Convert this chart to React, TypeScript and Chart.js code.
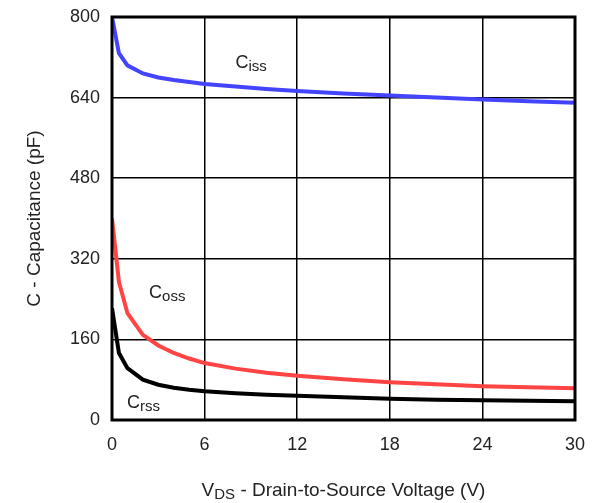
import React, { useEffect, useRef } from "react";
import { Chart, registerables } from "chart.js";

Chart.register(...registerables);

const voltages = [0, 0.45, 1, 2, 3, 4, 5, 6, 8, 10, 12, 15, 18, 21, 24, 27, 30];
const ciss = [800, 728, 704, 688, 680, 675, 671, 667, 662, 657, 653, 648, 644, 640, 636, 633, 630];
const coss = [400, 274, 212, 169, 148, 133, 122, 113, 102, 94, 88, 81, 75, 71, 67, 65, 63];
const crss = [222, 133, 103, 80, 70, 64, 60, 57, 53, 50, 48, 45, 42, 40, 39, 38, 37];
const xTicks = [0, 6, 12, 18, 24, 30];
const yTicks = [0, 160, 320, 480, 640, 800];
const curveLabels = [
  { main: "C", sub: "iss", x: 8.0, y: 708 },
  { main: "C", sub: "oss", x: 2.4, y: 252 },
  { main: "C", sub: "rss", x: 0.97, y: 34 },
];

const FONT = "'Liberation Sans', Arial, sans-serif";

const overlay = {
  id: "overlay",
  afterDraw(chart: any) {
    const { ctx, chartArea, scales } = chart;
    const xs = scales.x, ys = scales.y;
    ctx.save();
    ctx.strokeStyle = "#000";
    ctx.lineWidth = 3;
    ctx.strokeRect(chartArea.left, chartArea.top, chartArea.right - chartArea.left, chartArea.bottom - chartArea.top);
    ctx.fillStyle = "#222";
    ctx.textBaseline = "middle";
    ctx.textAlign = "left";
    for (const l of curveLabels) {
      const px = xs.getPixelForValue(l.x);
      const py = ys.getPixelForValue(l.y);
      ctx.font = `18px ${FONT}`;
      ctx.fillText(l.main, px, py);
      const w = ctx.measureText(l.main).width;
      ctx.font = `15px ${FONT}`;
      ctx.fillText(l.sub, px + w, py + 4);
    }
    const cx = (chartArea.left + chartArea.right) / 2;
    const ty = 491;
    ctx.font = `19px ${FONT}`;
    const p1 = "V";
    const p3 = " - Drain-to-Source Voltage (V)";
    const w1 = ctx.measureText(p1).width;
    const w3 = ctx.measureText(p3).width;
    ctx.font = `15px ${FONT}`;
    const w2 = ctx.measureText("DS").width;
    const sx = cx - (w1 + w2 + w3) / 2;
    ctx.font = `19px ${FONT}`;
    ctx.fillText(p1, sx, ty);
    ctx.font = `15px ${FONT}`;
    ctx.fillText("DS", sx + w1, ty + 4);
    ctx.font = `19px ${FONT}`;
    ctx.fillText(p3, sx + w1 + w2, ty);
    ctx.translate(35, (chartArea.top + chartArea.bottom) / 2);
    ctx.rotate(-Math.PI / 2);
    ctx.textAlign = "center";
    ctx.fillText("C - Capacitance (pF)", 0, 0);
    ctx.restore();
  },
};

const zeroPad = (s: any) => {
  s.paddingTop = 0;
  s.paddingBottom = 0;
  s.paddingLeft = 0;
  s.paddingRight = 0;
};

export default function App() {
  const ref = useRef<HTMLCanvasElement>(null);
  useEffect(() => {
    const mk = (vals: number[]) => voltages.map((v, i) => ({ x: v, y: vals[i] }));
    const chart = new Chart(ref.current!, {
      type: "line",
      data: {
        datasets: [
          { data: mk(ciss), borderColor: "#4444FF", borderWidth: 4, pointRadius: 0, tension: 0, fill: false },
          { data: mk(coss), borderColor: "#FF4444", borderWidth: 4, pointRadius: 0, tension: 0, fill: false },
          { data: mk(crss), borderColor: "#000000", borderWidth: 4, pointRadius: 0, tension: 0, fill: false },
        ],
      },
      options: {
        animation: false,
        responsive: false,
        devicePixelRatio: 1,
        layout: { padding: { top: 17, right: 21, left: 0, bottom: 0 } },
        plugins: { legend: { display: false }, tooltip: { enabled: false } },
        scales: {
          x: {
            type: "linear", min: 0, max: 30,
            afterBuildTicks: (s: any) => { s.ticks = xTicks.map((v) => ({ value: v })); },
            afterFit: (s: any) => { s.height = 83; zeroPad(s); },
            grid: { color: "#000", lineWidth: 1.5, drawTicks: false },
            border: { display: false },
            ticks: { color: "#222", font: { family: FONT, size: 18 }, padding: 14, maxRotation: 0 },
          },
          y: {
            type: "linear", min: 0, max: 800,
            afterBuildTicks: (s: any) => { s.ticks = yTicks.map((v) => ({ value: v })); },
            afterFit: (s: any) => { s.width = 112; zeroPad(s); },
            grid: { color: "#000", lineWidth: 1.5, drawTicks: false },
            border: { display: false },
            ticks: { color: "#222", font: { family: FONT, size: 18 }, padding: 12 },
          },
        },
      },
      plugins: [overlay],
    });
    return () => chart.destroy();
  }, []);
  return (
    <div style={{ position: "fixed", left: 0, top: 0, width: 596, height: 503, background: "#fff" }}>
      <canvas ref={ref} width={596} height={503} style={{ width: 596, height: 503 }} />
    </div>
  );
}
